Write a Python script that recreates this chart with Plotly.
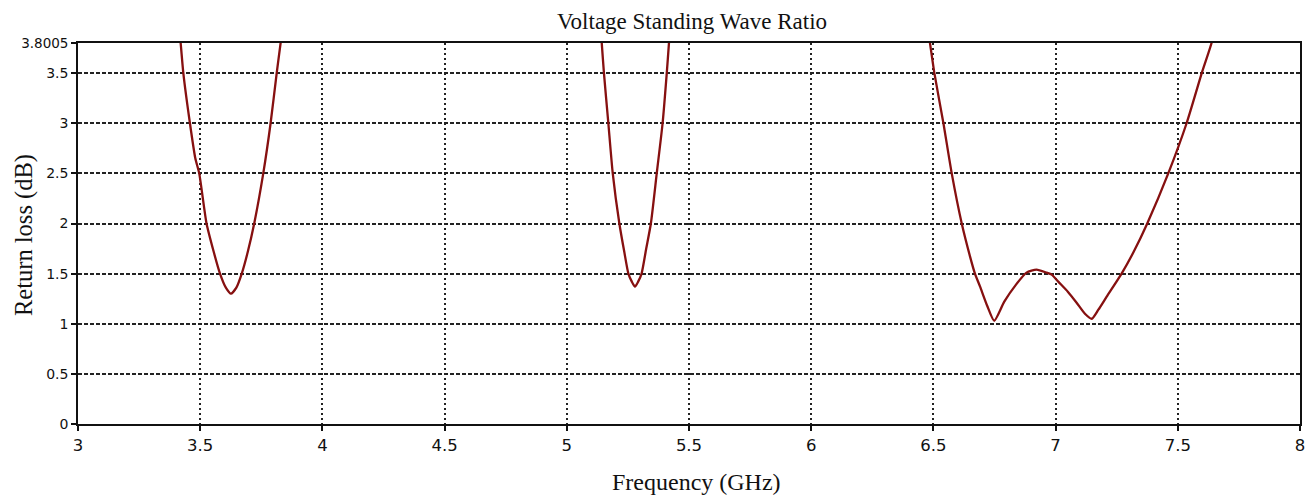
import plotly.graph_objects as go

# Frequency (GHz) and VSWR readings for the three resonant bands
band1_freq = [3.415, 3.420, 3.431, 3.458, 3.480, 3.496, 3.526, 3.555, 3.581, 3.605, 3.626, 3.648, 3.670, 3.695, 3.721, 3.758, 3.788, 3.813, 3.829, 3.835]
band1_vswr = [3.90, 3.80, 3.50, 3.00, 2.65, 2.50, 2.00, 1.72, 1.50, 1.36, 1.30, 1.36, 1.50, 1.72, 2.00, 2.50, 3.00, 3.50, 3.80, 3.90]

band2_freq = [5.140, 5.143, 5.152, 5.170, 5.188, 5.215, 5.235, 5.252, 5.266, 5.279, 5.292, 5.306, 5.325, 5.344, 5.368, 5.392, 5.409, 5.418, 5.421]
band2_vswr = [3.90, 3.80, 3.50, 3.00, 2.50, 2.00, 1.72, 1.50, 1.42, 1.37, 1.42, 1.50, 1.75, 2.00, 2.50, 3.00, 3.50, 3.80, 3.90]

band3_freq = [6.480, 6.486, 6.504, 6.541, 6.575, 6.616, 6.650, 6.670, 6.691, 6.720, 6.749, 6.790, 6.838, 6.881, 6.922, 6.963, 6.984, 7.011, 7.050, 7.086, 7.120, 7.148, 7.175, 7.209, 7.270, 7.320, 7.375, 7.461, 7.536, 7.598, 7.638, 7.645]
band3_vswr = [3.90, 3.80, 3.50, 3.00, 2.50, 2.00, 1.67, 1.50, 1.37, 1.18, 1.03, 1.22, 1.39, 1.51, 1.54, 1.51, 1.49, 1.42, 1.32, 1.21, 1.10, 1.05, 1.14, 1.27, 1.50, 1.72, 2.00, 2.50, 3.00, 3.50, 3.80, 3.90]

x_ticks = [3, 3.5, 4, 4.5, 5, 5.5, 6, 6.5, 7, 7.5, 8]
x_labels = ["3", "3.5", "4", "4.5", "5", "5.5", "6", "6.5", "7", "7.5", "8"]
y_ticks = [0, 0.5, 1, 1.5, 2, 2.5, 3, 3.5, 3.8005]
y_labels = ["0", "0.5", "1", "1.5", "2", "2.5", "3", "3.5", "<span style='font-size:13.5px'>3.8005</span>"]

# Join the bands with gaps so the curve leaves the top edge between them
freq = band1_freq + [None] + band2_freq + [None] + band3_freq
vswr = band1_vswr + [None] + band2_vswr + [None] + band3_vswr

fig = go.Figure()
fig.add_trace(go.Scatter(
    x=freq, y=vswr, mode="lines", connectgaps=False,
    line=dict(color="#861010", width=2.3, shape="spline", smoothing=0.6),
    showlegend=False, hoverinfo="skip",
))

sans = "DejaVu Sans, Verdana, sans-serif"
serif = "Liberation Serif, Times New Roman, serif"

W, H = 1314, 496
ML, MR, MT, MB = 78, 14, 43, 72
plot_w, plot_h = W - ML - MR, H - MT - MB

fig.update_layout(
    width=W, height=H,
    margin=dict(l=ML, r=MR, t=MT, b=MB),
    paper_bgcolor="white", plot_bgcolor="white",
    title=dict(text="Voltage Standing Wave Ratio", x=(692 - ML) / plot_w, xref="paper", xanchor="center",
               y=1 - 21 / H, yref="container", yanchor="middle",
               font=dict(family=serif, size=23, color="#111")),
    xaxis=dict(
        range=[3, 8], tickvals=x_ticks, ticktext=x_labels,
        tickfont=dict(family=sans, size=16.5, color="#111"),
        automargin=False,
        showline=True, linecolor="#111", linewidth=1.5, mirror=True,
        ticks="outside", ticklen=5, tickcolor="#111", tickwidth=1.5,
        showgrid=True, gridcolor="#222", gridwidth=1.5, griddash="2px,3px",
        zeroline=False,
    ),
    yaxis=dict(
        range=[0, 3.8005], tickvals=y_ticks, ticktext=y_labels,
        tickfont=dict(family=sans, size=14, color="#111"),
        automargin=False,
        showline=True, linecolor="#111", linewidth=1.5, mirror=True,
        ticks="outside", ticklen=5, tickcolor="#111", tickwidth=1.5,
        showgrid=True, gridcolor="#222", gridwidth=1.5, griddash="4px,2px",
        zeroline=False,
    ),
    annotations=[
        # x-axis title, centred near the bottom edge
        dict(text="Frequency (GHz)", xref="paper", yref="paper",
             x=(696 - ML) / plot_w, y=-(482 - (MT + plot_h)) / plot_h,
             xanchor="center", yanchor="middle", showarrow=False,
             font=dict(family=serif, size=24, color="#111")),
        # y-axis title, rotated along the left edge
        dict(text="Return loss (dB)", xref="paper", yref="paper",
             x=-(ML - 24) / plot_w, y=1 - (235 - MT) / plot_h,
             xanchor="center", yanchor="middle", showarrow=False, textangle=-90,
             font=dict(family=serif, size=24.5, color="#111")),
    ],
)

fig.write_html("out.html")
